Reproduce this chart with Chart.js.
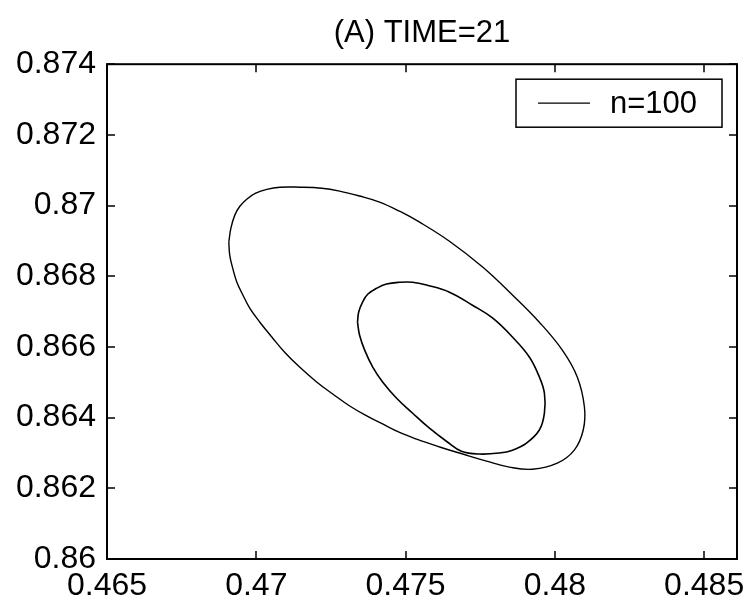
<!DOCTYPE html>
<html>
<head>
<meta charset="utf-8">
<title>(A) TIME=21</title>
<script src="https://cdn.jsdelivr.net/npm/chart.js@4.4.1/dist/chart.umd.min.js"></script>
<style>
  html, body { margin: 0; padding: 0; background: #fff; }
  #wrap { width: 750px; height: 605px; }
</style>
</head>
<body>
<div id="wrap"><canvas id="ellipseChart" width="750" height="605"></canvas></div>
<script>
// valores
const chartTitle = '(A) TIME=21';
const seriesLabel = 'n=100';

const xTicks = [0.465, 0.47, 0.475, 0.48, 0.485];
const xTickLabels = ['0.465', '0.47', '0.475', '0.48', '0.485'];
const yTicks = [0.86, 0.862, 0.864, 0.866, 0.868, 0.87, 0.872, 0.874];
const yTickLabels = ['0.86', '0.862', '0.864', '0.866', '0.868', '0.87', '0.872', '0.874'];

// elipse maior
const outerX = [0.46908, 0.46915, 0.46928, 0.46945, 0.46968, 0.46998, 0.47035, 0.47079, 0.47145, 0.47219,
                0.47279, 0.47346, 0.47413, 0.47480, 0.47547, 0.47647, 0.47758, 0.47858, 0.47948, 0.48025,
                0.48075, 0.48099, 0.48095, 0.48065, 0.48008, 0.47925, 0.47848, 0.47771, 0.47691, 0.47614,
                0.47537, 0.47480, 0.47423, 0.47370, 0.47313, 0.47256, 0.47202, 0.47145, 0.47095, 0.47052,
                0.47012, 0.46978, 0.46955, 0.46935, 0.46921, 0.46911, 0.46908];
const outerY = [0.86897, 0.86936, 0.86973, 0.86998, 0.87018, 0.87035, 0.87046, 0.87052, 0.87052, 0.87049,
                0.87041, 0.87027, 0.87010, 0.86984, 0.86953, 0.86899, 0.86826, 0.86747, 0.86670, 0.86591,
                0.86515, 0.86430, 0.86365, 0.86308, 0.86271, 0.86254, 0.86260, 0.86277, 0.86297, 0.86317,
                0.86339, 0.86358, 0.86382, 0.86405, 0.86433, 0.86467, 0.86501, 0.86543, 0.86585, 0.86628,
                0.86670, 0.86710, 0.86747, 0.86783, 0.86823, 0.86860, 0.86897];

// elipse menor
const innerX = [0.47339, 0.47343, 0.47356, 0.47373, 0.47403, 0.47436, 0.47480, 0.47523, 0.47570, 0.47647,
                0.47724, 0.47791, 0.47858, 0.47915, 0.47948, 0.47965, 0.47965, 0.47948, 0.47905, 0.47858,
                0.47814, 0.47747, 0.47687, 0.47640, 0.47580, 0.47523, 0.47470, 0.47423, 0.47390, 0.47363,
                0.47346, 0.47339];
const innerY = [0.86670, 0.86699, 0.86727, 0.86749, 0.86766, 0.86778, 0.86783, 0.86783, 0.86775, 0.86755,
                0.86718, 0.86682, 0.86628, 0.86571, 0.86515, 0.86469, 0.86413, 0.86365, 0.86328, 0.86308,
                0.86300, 0.86297, 0.86305, 0.86331, 0.86370, 0.86413, 0.86455, 0.86501, 0.86543, 0.86591,
                0.86633, 0.86670];

const fontFamily = "'Liberation Sans', Arial, Helvetica, sans-serif";

function toPoints(xs, ys) {
    return xs.map((v, i) => ({ x: v, y: ys[i] }));
}

// moldura estilo matlab, ticks para dentro e legenda dentro do grafico
const framePlugin = {
    id: 'frame',
    afterDatasetsDraw(chart) {
        const ctx = chart.ctx;
        const a = chart.chartArea;
        const sx = chart.scales.x;
        const sy = chart.scales.y;
        const tick = 8;
        ctx.save();
        ctx.strokeStyle = '#000';
        ctx.lineWidth = 1.5;
        ctx.beginPath();
        xTicks.forEach(v => {
            const px = Math.round(sx.getPixelForValue(v));
            ctx.moveTo(px, a.bottom); ctx.lineTo(px, a.bottom - tick);
            ctx.moveTo(px, a.top); ctx.lineTo(px, a.top + tick);
        });
        yTicks.forEach(v => {
            const py = Math.round(sy.getPixelForValue(v));
            ctx.moveTo(a.left, py); ctx.lineTo(a.left + tick, py);
            ctx.moveTo(a.right, py); ctx.lineTo(a.right - tick, py);
        });
        ctx.stroke();

        ctx.lineWidth = 2;
        ctx.strokeRect(a.left, a.top, a.right - a.left, a.bottom - a.top);

        // legenda
        const bw = 206, bh = 48;
        const bx = a.right - 15 - bw;
        const by = a.top + 15;
        ctx.fillStyle = '#fff';
        ctx.fillRect(bx, by, bw, bh);
        ctx.lineWidth = 1.5;
        ctx.strokeRect(bx, by, bw, bh);
        const ly = by + bh / 2;
        ctx.lineWidth = 1.3;
        ctx.beginPath();
        ctx.moveTo(bx + 22, ly);
        ctx.lineTo(bx + 74, ly);
        ctx.stroke();
        ctx.fillStyle = '#000';
        ctx.font = '31px ' + fontFamily;
        ctx.textBaseline = 'middle';
        ctx.textAlign = 'left';
        ctx.fillText(chart.data.datasets[0].label, bx + 94, ly + 1);
        ctx.restore();
    }
};

Chart.defaults.color = '#000';
Chart.defaults.font.family = fontFamily;

function initializeChart() {
    const ctx = document.getElementById('ellipseChart').getContext('2d');
    new Chart(ctx, {
        type: 'scatter',
        data: {
            datasets: [
                {
                    label: seriesLabel,
                    data: toPoints(outerX, outerY),
                    showLine: true,
                    borderColor: '#000',
                    borderWidth: 1.4,
                    pointRadius: 0,
                    tension: 0.4
                },
                {
                    label: seriesLabel,
                    data: toPoints(innerX, innerY),
                    showLine: true,
                    borderColor: '#000',
                    borderWidth: 1.6,
                    pointRadius: 0,
                    tension: 0.4
                }
            ]
        },
        options: {
            responsive: false,
            animation: false,
            layout: { padding: { left: 0, right: 13, top: 0, bottom: 0 } },
            plugins: {
                legend: { display: false },
                tooltip: { enabled: false },
                title: {
                    display: true,
                    fullSize: false,
                    text: chartTitle,
                    color: '#000',
                    font: { size: 31, weight: 'normal', family: fontFamily },
                    padding: { top: 15, bottom: 12 }
                }
            },
            scales: {
                x: {
                    type: 'linear',
                    min: 0.465,
                    max: 0.4861,
                    grid: { display: false, drawTicks: false },
                    border: { display: false },
                    afterBuildTicks: s => { s.ticks = xTicks.map(v => ({ value: v })); },
                    afterFit: s => { s.height = 46; s.paddingLeft = 0; s.paddingRight = 0; },
                    ticks: {
                        padding: 8,
                        maxRotation: 0,
                        font: { size: 32 },
                        callback: (v) => xTickLabels[xTicks.indexOf(v)]
                    }
                },
                y: {
                    type: 'linear',
                    min: 0.86,
                    max: 0.874,
                    grid: { display: false, drawTicks: false },
                    border: { display: false },
                    afterBuildTicks: s => { s.ticks = yTicks.map(v => ({ value: v })); },
                    afterFit: s => { s.width = 107; },
                    ticks: {
                        padding: 11,
                        font: { size: 32 },
                        callback: (v) => yTickLabels[yTicks.indexOf(v)]
                    }
                }
            }
        },
        plugins: [framePlugin]
    });
}

window.onload = function() {
    initializeChart();
};
</script>
</body>
</html>
